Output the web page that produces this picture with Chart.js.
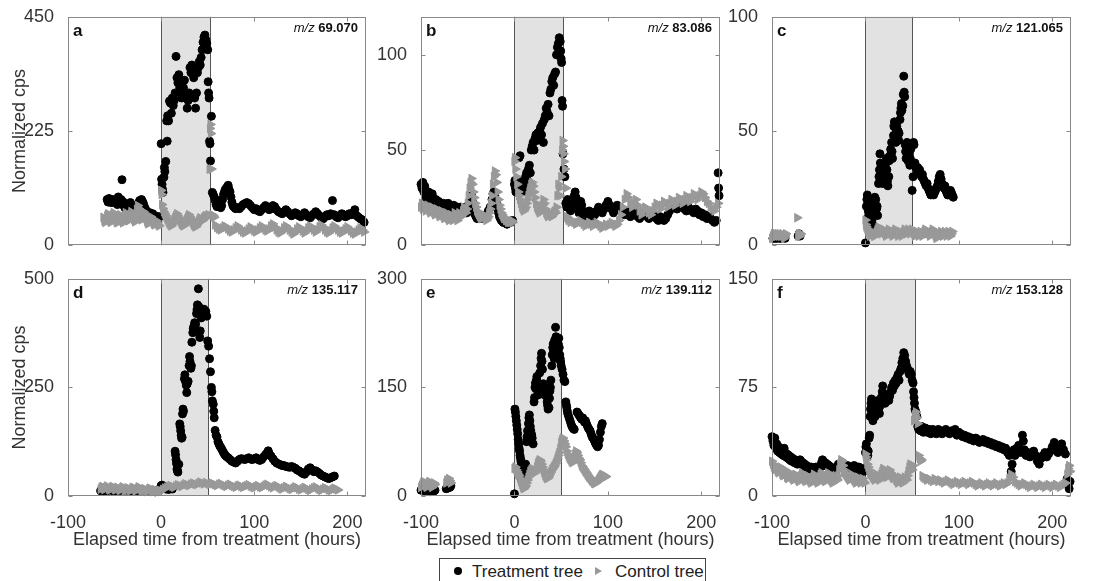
<!DOCTYPE html>
<html>
<head>
<meta charset="utf-8">
<script src="https://cdn.jsdelivr.net/npm/chart.js@4.4.0/dist/chart.umd.min.js"></script>
<style>
  body { margin: 0; background: #fff; }
  #page { position: relative; width: 1096px; height: 581px; overflow: hidden; font-family: "Liberation Sans", Arial, sans-serif; }
  canvas { position: absolute; }
  #legend { position: absolute; left: 439px; top: 558px; width: 267px; height: 30px; border: 1px solid #444; box-sizing: border-box; color: #222; font-size: 17px; }
  #legend span { position: absolute; top: 3px; line-height: 20px; }
  .dot { width: 8px; height: 8px; border-radius: 50%; background: #000; }
  .tri { width: 0; height: 0; border-top: 4px solid transparent; border-bottom: 4px solid transparent; border-left: 7px solid #999; }
</style>
</head>
<body>
<div id="page">
  <canvas id="pa" width="372" height="262" style="left:0;top:0"></canvas>
  <canvas id="pb" width="350" height="262" style="left:376px;top:0"></canvas>
  <canvas id="pc" width="368" height="262" style="left:728px;top:0"></canvas>
  <canvas id="pd" width="372" height="296" style="left:0;top:262px"></canvas>
  <canvas id="pe" width="350" height="296" style="left:376px;top:262px"></canvas>
  <canvas id="pf" width="368" height="296" style="left:728px;top:262px"></canvas>
  <div id="legend">
    <div class="dot" style="position:absolute;left:14px;top:8px"></div>
    <span style="left:32px">Treatment tree</span>
    <div class="tri" style="position:absolute;left:155px;top:8px"></div>
    <span style="left:175px">Control tree</span>
  </div>
</div>
<script>
// panel labels, axes
const panelLetters = ['a', 'b', 'c', 'd', 'e', 'f'];
const mzLabels = ['69.070', '83.086', '121.065', '135.117', '139.112', '153.128'];
const yMaxes = [450, 120, 100, 500, 300, 150];
const yTickSets = [[0, 225, 450], [0, 50, 100], [0, 50, 100], [0, 250, 500], [0, 150, 300], [0, 75, 150]];
const xTicks = [-100, 0, 100, 200];
const shadeEnds = [52, 52, 50, 50, 50, 53];

// [hours, normalized cps]
const aTreat = [[-58,90],[-57,85],[-56,92],[-55,88],[-54,84],[-53,86],[-52,90],[-51,84],[-50,88],[-49,85],[-48,87],[-47,80],[-46,95],[-45,88],[-44,84],[-43,90],[-42,129],[-41,86],[-40,78],[-39,74],[-38,72],[-37,76],[-36,70],[-35,74],[-34,80],[-33,84],[-32,78],[-31,74],[-30,70],[-29,68],[-28,72],[-27,76],[-26,74],[-25,80],[-24,84],[-23,88],[-22,86],[-21,90],[-20,86],[-19,82],[-18,76],[-17,72],[-16,68],[-15,66],[-14,64],[-13,62],[-12,64],[-11,60],[-10,58],[-9,62],[-8,58],[-7,56],[-6,54],[-5,57],[-4,55],[-3,52],[-2,56],
  [0,200],[0.5,130],[1,120],[1.5,110],[2,104],[3,134],[3.5,153],[4,145],[5,165],[6,245],[6.5,205],[7,255],[8,245],[9,284],[10,280],[11,260],[12,290],[13,275],[14,285],[15,300],[16,372],[17,330],[18,320],[19,336],[20,310],[21,300],[22,290],[23,305],[24,310],[25,325],[26,300],[27,290],[28,270],[29,285],[30,300],[31,350],[32,340],[33,355],[34,345],[35,330],[36,290],[37,270],[38,300],[39,340],[40,350],[41,362],[42,355],[43,370],[44,385],[45,400],[46,410],[47,414],[48,405],[49,398],[50,385],[50.5,322],[51,300],[51.5,290],[52,205],[52.5,200],[53,166],[54,254],
  [55,104],[56,100],[57,95],[58,88],[59,80],[60,76],[61,82],[62,88],[63,80],[64,74],[65,78],[66,90],[67,100],[68,105],[69,110],[70,112],[71,115],[72,118],[73,110],[74,105],[75,95],[76,85],[77,78],[78,76],[79,74],[80,72],[82,74],[84,72],[86,76],[88,80],[90,82],[92,84],[94,82],[96,78],[98,74],[100,70],[102,72],[104,68],[106,66],[108,70],[110,74],[112,78],[114,74],[116,70],[118,72],[120,78],[122,76],[124,70],[126,66],[128,64],[130,62],[132,66],[134,70],[136,66],[138,62],[140,58],[142,60],[144,64],[146,62],[148,58],[150,56],[152,60],[154,64],[156,60],[158,56],[160,54],[162,58],[164,62],[166,66],[168,62],[170,58],[172,54],[174,52],[176,56],[178,60],[180,58],[182,62],[184,88],[186,60],[188,56],[190,54],[192,58],[194,62],[196,60],[198,56],[200,58],[202,62],[204,60],[206,64],[208,70],[210,58],[212,55],[214,52],[216,50],[218,45]];
const aCtrl = [[-62,55],[-61,48],[-60,45],[-59,50],[-58,58],[-57,62],[-56,55],[-55,48],[-54,45],[-53,52],[-52,60],[-51,64],[-50,58],[-49,52],[-48,46],[-47,44],[-46,50],[-45,56],[-44,60],[-43,54],[-42,48],[-41,44],[-40,50],[-39,58],[-38,64],[-37,60],[-36,54],[-35,48],[-34,52],[-33,60],[-32,66],[-31,62],[-30,56],[-29,50],[-28,46],[-27,52],[-26,70],[-25,78],[-24,72],[-23,62],[-22,56],[-21,50],[-20,58],[-19,66],[-18,62],[-17,58],[-16,52],[-15,46],[-14,42],[-13,46],[-12,52],[-11,56],[-10,50],[-9,46],[-8,42],[-7,40],[-6,44],[-5,48],[-4,44],[-3,40],[-2,38],
  [0,108],[0.5,100],[1,80],[2,72],[3,66],[4,62],[5,58],[6,54],[7,50],[8,46],[9,42],[10,40],[11,38],[12,42],[13,46],[14,50],[15,54],[16,58],[17,62],[18,58],[19,54],[20,50],[21,46],[22,42],[23,40],[24,38],[25,40],[26,44],[27,48],[28,52],[29,56],[30,60],[31,56],[32,52],[33,48],[34,44],[35,40],[36,38],[37,36],[38,38],[39,42],[40,46],[41,50],[42,54],[43,52],[44,48],[45,50],[46,54],[47,56],[48,58],[49,55],[50,58],[51,60],[52,150],[52.5,230],[53,238],[53.5,220],[54,150],[55,60],[56,58],
  [57,55],[58,40],[60,35],[62,32],[64,30],[66,34],[68,38],[70,36],[72,32],[74,28],[76,26],[78,30],[80,34],[82,38],[84,34],[86,30],[88,26],[90,24],[92,28],[94,32],[96,36],[98,32],[100,28],[102,26],[104,30],[106,34],[108,38],[110,34],[112,30],[114,28],[116,32],[118,38],[120,42],[122,36],[124,30],[126,26],[128,24],[130,28],[132,34],[134,38],[136,34],[138,30],[140,26],[142,22],[144,26],[146,32],[148,36],[150,32],[152,28],[154,24],[156,28],[158,34],[160,38],[162,34],[164,30],[166,26],[168,30],[170,36],[172,40],[174,36],[176,30],[178,26],[180,24],[182,28],[184,34],[186,38],[188,34],[190,30],[192,26],[194,24],[196,28],[198,32],[200,36],[202,32],[204,28],[206,24],[208,22],[210,26],[212,30],[214,34],[216,30],[218,26]];

const bTreat = [[-100,32],[-99,30],[-98,33],[-97,28],[-96,31],[-95,26],[-94,24],[-93,27],[-92,28],[-91,26],[-90,25],[-89,24],[-88,27],[-87,25],[-86,23],[-85,22],[-84,24],[-83,22],[-82,21],[-81,23],[-80,22],[-79,20],[-78,21],[-77,20],[-76,22],[-75,20],[-74,19],[-73,20],[-72,21],[-71,22],[-70,21],[-69,20],[-68,19],[-67,18],[-66,20],[-65,21],[-64,20],[-63,19],[-62,18],[-61,20],[-60,19],[-59,18],[-58,20],[-57,19],[-56,18],[-55,17],[-54,19],[-53,20],[-52,18],[-51,17],[-50,18],[-49,20],[-48,22],[-47,24],[-46,26],[-45,23],[-44,19],[-43,17],[-42,16],[-41,15],[-40,14],[-38,14],[-36,15],[-34,14],[-32,15],[-30,16],[-28,18],[-26,20],[-24,24],[-23,27],[-22,28],[-21,26],[-20,24],[-19,22],[-18,19],[-17,17],[-16,15],[-15,14],[-14,13],[-12,12],[-10,12],[-8,11],[-6,12],[-4,12],[-2,13],
  [0,32],[0.5,34],[1,30],[1.5,28],[2,33],[3,30],[4,28],[5,46],[6,47],[6.5,34],[7,30],[8,28],[9,31],[10,29],[11,33],[12,36],[13,38],[14,34],[15,40],[16,42],[17,38],[18,50],[19,52],[20,54],[21,50],[22,56],[23,58],[24,55],[25,59],[26,57],[27,60],[28,62],[29,58],[30,64],[31,54],[32,66],[33,68],[34,72],[35,70],[36,74],[37,68],[38,80],[39,82],[40,86],[41,88],[42,84],[43,90],[44,91],[45,100],[46,104],[47,106],[48,109],[49,107],[49.5,102],[50,98],[50.5,96],[51,76],[51.5,73],[52,48],[53,40],[54,36],
  [55,22],[56,20],[57,24],[58,22],[59,20],[60,18],[61,21],[62,24],[63,22],[64,26],[65,28],[66,25],[67,22],[68,19],[69,17],[70,20],[71,23],[72,21],[73,18],[74,16],[75,15],[76,17],[78,16],[80,18],[82,17],[84,15],[86,16],[88,18],[90,20],[92,19],[94,17],[96,19],[98,21],[100,23],[102,21],[104,19],[106,17],[108,19],[110,21],[112,20],[114,18],[116,17],[118,16],[120,18],[122,17],[124,15],[126,16],[128,18],[130,17],[132,15],[134,14],[136,16],[138,18],[140,17],[142,15],[144,14],[146,15],[148,16],[150,15],[152,14],[154,13],[156,15],[158,14],[160,13],[162,14],[164,16],[166,18],[168,20],[170,22],[172,21],[174,19],[176,20],[178,22],[180,21],[182,19],[184,18],[186,20],[188,19],[190,18],[192,17],[194,19],[196,18],[198,16],[200,17],[202,15],[204,16],[206,14],[208,15],[210,14],[212,13],[214,12],[216,13],[218,38],[218.5,30],[219,26]];
const bCtrl = [[-100,20],[-99,22],[-98,19],[-97,21],[-96,20],[-95,18],[-94,19],[-93,21],[-92,20],[-91,18],[-90,17],[-89,19],[-88,20],[-87,18],[-86,17],[-85,16],[-84,18],[-83,19],[-82,17],[-81,16],[-80,15],[-79,17],[-78,18],[-77,16],[-76,15],[-75,14],[-74,16],[-73,17],[-72,15],[-71,14],[-70,13],[-69,15],[-68,16],[-67,14],[-66,13],[-65,15],[-64,17],[-63,16],[-62,14],[-61,13],[-60,15],[-59,17],[-58,16],[-57,15],[-56,16],[-55,18],[-54,20],[-53,18],[-52,17],[-51,19],[-50,22],[-49,26],[-48,30],[-47,33],[-46,35],[-45,32],[-44,28],[-43,25],[-42,22],[-41,20],[-40,18],[-39,17],[-38,16],[-37,15],[-36,14],[-35,14],[-34,15],[-33,16],[-32,15],[-31,14],[-30,13],[-29,14],[-28,15],[-27,17],[-26,19],[-25,22],[-24,26],[-23,32],[-22,36],[-21,39],[-20,37],[-19,33],[-18,28],[-17,24],[-16,21],[-15,19],[-14,17],[-13,16],[-12,15],[-11,14],[-10,14],[-9,13],[-8,13],[-7,12],[-6,13],[-5,12],[-4,12],[-3,13],[-2,12],
  [0,44],[0.5,46],[1,40],[2,36],[3,32],[4,28],[5,26],[6,24],[7,22],[8,20],[9,19],[10,18],[11,19],[12,20],[13,22],[14,24],[15,26],[16,28],[17,30],[18,32],[19,33],[20,31],[21,28],[22,25],[23,22],[24,20],[25,19],[26,18],[27,17],[28,18],[29,19],[30,21],[31,24],[32,22],[33,19],[34,17],[35,16],[36,15],[37,16],[38,17],[39,16],[40,15],[41,16],[42,17],[43,18],[44,17],[45,20],[46,26],[47,32],[48,30],[49,26],[50,36],[51,50],[51.5,55],[52,52],[52.5,48],[53,44],[54,40],[55,30],
  [56,15],[57,14],[58,13],[60,12],[62,13],[64,12],[66,11],[68,12],[70,13],[72,12],[74,11],[76,10],[78,11],[80,12],[82,11],[84,10],[86,11],[88,12],[90,11],[92,10],[94,9],[96,10],[98,11],[100,10],[102,11],[104,12],[106,11],[108,10],[110,11],[112,13],[114,16],[116,20],[118,24],[120,27],[122,25],[124,22],[126,20],[128,22],[130,24],[132,21],[134,18],[136,16],[138,18],[140,20],[142,19],[144,17],[146,16],[148,18],[150,20],[152,22],[154,21],[156,19],[158,21],[160,23],[162,22],[164,20],[166,22],[168,24],[170,23],[172,21],[174,23],[176,25],[178,24],[180,22],[182,24],[184,26],[186,25],[188,23],[190,25],[192,27],[194,26],[196,24],[198,26],[200,28],[202,27],[204,25],[206,23],[208,22],[210,20],[212,19],[214,18],[216,20],[218,22]];

const cTreat = [[-99,3],[-98,4],[-97,3],[-96,4],[-95,3],[-94,4],[-93,4],[-92,3],[-91,4],[-90,3],[-87,4],[-86,3],[-72,4],[-71,5],[-70,4],
  [0,1],[1,17],[1.5,20],[2,22],[2.5,18],[3,15],[3.5,13],[4,19],[4.5,16],[5,12],[5.5,10],[6,14],[6.5,8],[7,11],[7.5,13],[8,9],[9,15],[10,21],[10.5,18],[11,20],[12,16],[12.5,17],[13,13],[14,27],[14.5,30],[15,33],[15.5,40],[16,36],[16.5,31],[17,28],[17.5,34],[18,32],[18.5,27],[19,30],[19.5,35],[20,33],[20.5,31],[21,29],[22,36],[22.5,38],[23,33],[23.5,28],[24,26],[25,30],[25.5,37],[26,39],[27,42],[27.5,40],[28,45],[28.5,41],[29,38],[30,48],[30.5,52],[31,54],[32,47],[32.5,45],[33,50],[33.5,52],[34,48],[35,50],[35.5,46],[36,49],[37,55],[37.5,58],[38,60],[38.5,62],[39,59],[40,61],[40.5,66],[41,74],[41.5,67],[42,65],[42.5,44],[43,41],[43.5,38],[44,43],[44.5,45],[45,39],[45.5,37],[46,44],[47,40],[47.5,35],[48,38],[48.5,42],[49,36],[50,24],[51,30],[51.5,45],[52,44],[53,36],[54,34],[55,33],[56,34],[57,32],[58,33],[59,31],[60,30],[61,31],[62,29],[63,28],[64,27],[65,26],[66,27],[67,25],[68,24],[69,23],[70,22],[71,23],[72,24],[73,22],[74,23],[75,24],[76,25],[77,26],[78,28],[79,30],[80,31],[81,29],[82,27],[83,26],[84,25],[85,26],[86,24],[87,23],[88,22],[89,23],[90,22],[91,24],[92,23],[93,22],[94,21]];
const cCtrl = [[-100,3],[-99,4],[-98,5],[-97,4],[-96,5],[-95,4],[-94,5],[-93,4],[-92,5],[-91,4],[-90,4],[-89,5],[-88,4],[-87,3],[-86,4],[-85,5],[-73,12],[-72,4],[-71,5],[-70,4],[-69,5],
  [0,11],[0.5,9],[1,8],[2,7],[3,6],[4,5],[5,4],[6,5],[7,6],[8,5],[9,4],[10,4],[11,5],[12,6],[13,7],[14,8],[15,7],[16,6],[17,5],[18,6],[19,7],[20,6],[21,5],[22,4],[23,5],[24,6],[25,7],[26,6],[27,5],[28,5],[29,4],[30,5],[31,6],[32,7],[33,6],[34,5],[35,4],[36,5],[37,6],[38,5],[39,4],[40,5],[41,6],[42,7],[43,6],[44,5],[45,6],[46,7],[47,6],[48,5],[49,6],[50,7],[51,6],[52,5],[53,4],[54,5],[55,6],[56,5],[57,4],[58,5],[59,6],[60,5],[61,4],[62,5],[63,6],[64,7],[65,6],[66,5],[67,6],[68,5],[69,4],[70,5],[71,6],[72,7],[73,6],[74,5],[75,4],[76,3],[77,4],[78,5],[79,4],[80,5],[81,6],[82,5],[83,4],[84,5],[85,6],[86,5],[87,4],[88,5],[89,6],[90,5],[91,4],[92,5],[93,6]];

const dTreat = [[-65,12],[-63,13],[-60,11],[-58,12],[-55,14],[-52,12],[-50,11],[-45,12],[-40,13],[-35,12],[-30,11],[-25,12],[-20,13],[-15,12],[-10,11],[-5,12],
  [0,24],[1,25],[2,22],[3,20],[5,16],[8,15],[12,16],
  [15,103],[15.5,95],[16,84],[16.5,75],[17,62],[17.5,58],[18,55],[19,73],[20,166],[20.5,160],[21,150],[21.5,140],[22,133],[22.5,135],[23,189],[23.5,200],[24,195],[25,270],[25.5,279],[26,265],[27,255],[27.5,238],[28,258],[29,264],[30,300],[30.5,321],[31,310],[32,294],[32.5,300],[33,354],[34,376],[34.5,385],[35,390],[36,399],[37,395],[38,420],[38.5,429],[39,440],[40,477],[40.5,436],[41,430],[41.5,365],[42,380],[43,410],[44,429],[45,420],[46,430],[47,415],[48,425],[49,414],[50,357],[51,345],[52,316],[53,286],[54,250],[54.5,240],[55,219],[56,211],[56.5,195],[57,180],[58,151],[59,140],[60,136],[61,125],[62,120],[63,115],[64,112],[65,108],[66,104],[67,100],[68,96],[69,94],[70,91],[72,88],[74,84],[76,80],[78,78],[80,76],[82,80],[84,84],[86,86],[88,85],[90,84],[92,86],[94,88],[96,85],[98,84],[100,86],[102,88],[104,84],[106,82],[108,84],[110,90],[112,95],[114,100],[115,104],[116,98],[118,92],[120,86],[122,80],[124,76],[126,74],[128,72],[130,70],[132,70],[134,68],[136,67],[138,66],[140,68],[142,66],[144,64],[146,60],[148,58],[150,55],[152,52],[154,50],[156,55],[158,62],[160,65],[162,60],[164,56],[166,58],[168,55],[170,52],[172,48],[174,46],[176,44],[178,42],[180,40],[182,42],[184,44],[186,46]];
const dCtrl = [[-65,16],[-64,20],[-63,22],[-62,18],[-61,15],[-60,17],[-59,20],[-58,23],[-57,19],[-56,16],[-55,14],[-54,17],[-53,20],[-52,22],[-51,19],[-50,16],[-49,14],[-48,17],[-47,20],[-46,18],[-45,15],[-44,13],[-43,16],[-42,19],[-41,21],[-40,18],[-39,15],[-38,13],[-37,16],[-36,19],[-35,17],[-34,14],[-33,12],[-32,15],[-31,18],[-30,20],[-29,17],[-28,14],[-27,12],[-26,15],[-25,18],[-24,21],[-23,19],[-22,16],[-21,13],[-20,11],[-19,14],[-18,17],[-17,15],[-16,12],[-15,10],[-14,13],[-13,16],[-12,18],[-11,15],[-10,12],[-9,10],[-8,13],[-7,15],[-6,12],[-5,10],[-4,9],[-3,11],[-2,13],[-1,10],
  [0,12],[2,15],[4,18],[6,20],[8,22],[10,24],[12,22],[14,20],[16,23],[18,26],[20,24],[22,22],[24,25],[26,28],[28,26],[30,24],[32,27],[34,30],[36,28],[38,26],[40,29],[42,32],[44,30],[46,28],[48,31],[50,29],[52,27],[54,30],[56,28],[58,26],[60,24],[62,27],[64,29],[66,26],[68,24],[70,22],[72,25],[74,27],[76,24],[78,22],[80,20],[82,23],[84,25],[86,22],[88,20],[90,22],[92,24],[94,26],[96,23],[98,21],[100,19],[102,22],[104,24],[106,21],[108,19],[110,22],[112,25],[114,27],[116,24],[118,21],[120,19],[122,22],[124,24],[126,21],[128,18],[130,16],[132,19],[134,22],[136,20],[138,17],[140,15],[142,18],[144,21],[146,19],[148,16],[150,14],[152,17],[154,20],[156,18],[158,15],[160,13],[162,16],[164,19],[166,21],[168,18],[170,15],[172,13],[174,16],[176,19],[178,17],[180,14],[182,12],[184,15],[186,18],[188,16],[190,14]];

const eTreat = [[-100,8],[-99,10],[-98,12],[-97,9],[-96,7],[-95,8],[-94,10],[-93,11],[-92,9],[-91,8],[-90,6],[-89,7],[-88,8],[-87,9],[-86,7],[-85,8],[-73,10],[-72,12],[-71,11],[-70,13],[-69,12],[-68,14],
  [0,3],[0.5,120],[1,116],[1.5,110],[2,104],[2.5,98],[3,92],[3.5,86],[4,78],[4.5,72],[5,66],[5.5,62],[6,56],[6.5,52],[7,48],[7.5,45],[8,42],[8.5,38],[9,35],[9.5,32],[10,30],[11,36],[12,44],[13,75],[13.5,82],[14,90],[14.5,84],[15,100],[15.5,108],[16,112],[16.5,104],[17,96],[17.5,90],[18,86],[18.5,84],[19,80],[20,72],[21,130],[21.5,136],[22,150],[22.5,156],[23,148],[23.5,160],[24,165],[24.5,158],[25,152],[25.5,145],[26,140],[27,170],[28,180],[28.5,190],[29,197],[29.5,186],[30,175],[31,155],[31.5,150],[32,145],[32.5,140],[33,150],[33.5,148],[34,138],[35,130],[35.5,125],[36,120],[37,122],[37.5,135],[38,145],[38.5,150],[39,160],[40,180],[40.5,195],[41,205],[41.5,210],[42,200],[42.5,190],[43,215],[44,233],[44.5,220],[45,212],[45.5,205],[46,195],[46.5,200],[47,210],[47.5,218],[48,205],[48.5,195],[49,190],[49.5,185],[50,180],[51,175],[52,168],[53,160],[54,158],[55,130],[55.5,126],[56,122],[56.5,118],[57,114],[58,110],[59,106],[60,102],[61,98],[62,95],[63,93],[64,92],[67,116],[68,114],[69,112],[70,110],[71,108],[72,106],[73,108],[74,105],[75,102],[76,104],[77,100],[78,97],[79,94],[80,92],[81,90],[82,86],[83,82],[84,80],[85,78],[86,75],[87,72],[88,70],[89,68],[90,70],[91,78],[92,88],[93,96],[94,100]];
const eCtrl = [[-100,12],[-99,15],[-98,18],[-97,20],[-96,17],[-95,14],[-94,12],[-93,15],[-92,18],[-91,20],[-90,17],[-89,14],[-88,12],[-87,15],[-86,18],[-85,16],[-73,18],[-72,22],[-71,20],[-70,24],[-69,21],[-68,18],
  [0,38],[1,40],[2,36],[3,33],[4,30],[5,28],[6,24],[7,20],[8,16],[9,12],[10,10],[11,12],[12,14],[13,18],[14,22],[15,26],[16,30],[17,34],[18,36],[19,38],[20,36],[21,34],[22,32],[23,35],[24,40],[25,45],[26,48],[27,50],[28,48],[29,44],[30,40],[31,36],[32,32],[33,28],[34,26],[35,24],[36,25],[37,27],[38,30],[39,33],[40,36],[41,38],[42,40],[43,42],[44,45],[45,48],[46,52],[47,56],[48,60],[49,66],[50,74],[51,78],[52,80],[53,76],[54,72],[55,68],[56,62],[57,58],[58,55],[59,52],[60,50],[61,48],[62,46],[63,48],[64,52],[65,58],[66,62],[67,60],[68,56],[69,52],[70,50],[71,46],[72,42],[73,40],[74,38],[75,36],[76,34],[77,32],[78,30],[79,28],[80,26],[81,25],[82,23],[83,21],[84,20],[85,18],[86,17],[87,18],[88,19],[89,20],[90,22],[91,24],[92,26],[93,28],[94,30],[95,28],[96,27],[97,26],[98,27]];

const fTreat = [[-100,41],[-99,38],[-98,35],[-97,40],[-96,33],[-95,36],[-94,31],[-93,34],[-92,30],[-91,32],[-90,29],[-89,31],[-88,28],[-87,33],[-86,30],[-85,27],[-84,29],[-83,26],[-82,28],[-81,25],[-80,27],[-79,24],[-78,26],[-77,25],[-76,23],[-75,25],[-74,24],[-73,22],[-72,24],[-71,23],[-70,25],[-69,24],[-68,22],[-67,23],[-66,21],[-65,22],[-64,20],[-63,21],[-62,20],[-61,19],[-60,20],[-59,19],[-58,20],[-57,18],[-56,19],[-55,18],[-54,19],[-53,20],[-52,19],[-51,18],[-50,17],[-48,20],[-47,23],[-46,25],[-45,24],[-44,22],[-43,23],[-42,21],[-41,22],[-40,20],[-39,21],[-38,19],[-37,20],[-36,18],[-35,19],[-34,18],[-33,17],[-32,19],[-31,18],[-30,20],[-29,22],[-28,21],[-27,20],[-26,22],[-25,21],[-24,20],[-23,22],[-22,21],[-21,20],[-20,19],[-19,21],[-18,20],[-17,19],[-16,20],[-15,18],[-14,19],[-13,20],[-12,21],[-11,19],[-10,20],[-9,18],[-8,19],[-7,20],[-6,18],[-5,17],[-4,18],[-3,19],[-2,17],[-1,18],
  [0,30],[0.5,34],[1,36],[1.5,32],[2,30],[2.5,28],[3,31],[4,40],[4.5,42],[5,55],[5.5,60],[6,64],[6.5,67],[7,58],[7.5,54],[8,52],[9,56],[9.5,60],[10,62],[10.5,55],[11,58],[12,60],[13,63],[13.5,66],[14,60],[15,57],[15.5,62],[16,64],[17,68],[18,72],[18.5,76],[19,70],[20,66],[21,64],[22,67],[23,70],[24,68],[25,66],[26,69],[27,72],[28,75],[29,73],[30,78],[31,76],[32,80],[33,78],[34,82],[35,84],[36,80],[37,86],[38,88],[39,92],[40,95],[41,99],[42,97],[43,93],[44,90],[45,88],[46,86],[47,84],[48,86],[49,84],[50,80],[51,78],[51.5,72],[52,68],[52.5,64],[53,60],[54,58],[55,55],
  [56,48],[57,46],[58,47],[59,45],[60,48],[61,46],[62,44],[63,45],[64,47],[65,46],[66,44],[67,45],[68,46],[69,44],[70,43],[71,45],[72,46],[73,44],[74,45],[76,43],[78,46],[80,45],[82,43],[84,44],[86,46],[88,44],[90,43],[92,45],[94,44],[96,46],[98,42],[100,44],[102,43],[104,41],[106,42],[108,40],[110,41],[112,39],[114,40],[116,38],[118,40],[120,39],[122,37],[124,38],[126,39],[128,37],[130,38],[132,36],[134,37],[136,35],[138,36],[140,34],[142,35],[144,33],[146,34],[148,32],[150,33],[152,30],[154,28],[156,17],[157,22],[158,30],[159,32],[160,28],[162,33],[164,35],[166,30],[168,42],[169,38],[170,32],[172,28],[174,30],[176,27],[178,29],[180,31],[182,28],[184,24],[186,22],[188,26],[190,28],[192,30],[194,27],[196,29],[198,31],[200,34],[202,37],[204,33],[206,30],[208,35],[210,36],[212,32],[214,29],[216,12],[217,8],[218,5],[219,10]];
const fCtrl = [[-100,24],[-99,22],[-98,20],[-97,18],[-96,21],[-95,19],[-94,17],[-93,16],[-92,18],[-91,20],[-90,17],[-89,15],[-88,14],[-87,16],[-86,18],[-85,15],[-84,13],[-83,12],[-82,14],[-81,16],[-80,15],[-79,13],[-78,12],[-77,11],[-76,13],[-75,15],[-74,14],[-73,12],[-72,11],[-71,10],[-70,12],[-69,14],[-68,16],[-67,15],[-66,13],[-65,11],[-64,10],[-63,12],[-62,14],[-61,13],[-60,11],[-59,10],[-58,9],[-57,11],[-56,13],[-55,15],[-54,14],[-53,12],[-52,10],[-51,9],[-50,11],[-49,13],[-48,15],[-47,16],[-46,14],[-45,12],[-44,11],[-43,10],[-42,12],[-41,14],[-40,16],[-39,15],[-38,13],[-37,11],[-36,10],[-35,9],[-34,11],[-33,13],[-32,14],[-31,12],[-30,11],[-29,14],[-28,18],[-27,22],[-26,25],[-25,24],[-24,21],[-23,18],[-22,16],[-21,15],[-20,14],[-19,13],[-18,12],[-17,11],[-16,13],[-15,15],[-14,14],[-13,12],[-12,11],[-11,10],[-10,9],[-9,11],[-8,13],[-7,12],[-6,10],[-5,9],[-4,11],[-3,12],[-2,10],[-1,9],
  [0,29],[0.5,27],[1,25],[2,22],[3,20],[4,18],[5,16],[6,15],[7,14],[8,13],[9,12],[10,11],[11,13],[12,15],[13,14],[14,12],[15,11],[16,13],[17,15],[18,17],[19,19],[20,18],[21,16],[22,14],[23,13],[24,15],[25,17],[26,18],[27,16],[28,14],[29,13],[30,12],[31,14],[32,13],[33,11],[34,10],[35,9],[36,11],[37,13],[38,12],[39,10],[40,9],[41,11],[42,13],[43,12],[44,11],[45,14],[46,17],[47,20],[48,22],[49,19],[50,18],[51,21],[52,52],[53,56],[54,58],[55,54],[56,50],[57,28],[58,26],[59,24],[60,25],[61,14],[62,13],[64,12],[66,11],[68,12],[70,11],[72,10],[74,12],[76,11],[78,10],[80,11],[82,10],[84,9],[86,10],[88,11],[90,10],[92,9],[94,8],[96,9],[98,10],[100,9],[102,8],[104,9],[106,10],[108,9],[110,8],[112,9],[114,10],[116,9],[118,8],[120,7],[122,8],[124,9],[126,8],[128,7],[130,8],[132,9],[134,8],[136,7],[138,8],[140,9],[142,8],[144,7],[146,8],[148,9],[150,8],[152,9],[154,12],[156,15],[158,13],[160,10],[162,9],[164,8],[166,7],[168,8],[170,9],[172,8],[174,7],[176,6],[178,7],[180,8],[182,7],[184,6],[186,7],[188,8],[190,7],[192,6],[194,7],[196,8],[198,7],[200,6],[202,7],[204,8],[206,7],[208,6],[210,7],[212,8],[214,9],[216,15],[217,19],[218,21],[219,17]];

const treatSeries = [aTreat, bTreat, cTreat, dTreat, eTreat, fTreat];
const ctrlSeries = [aCtrl, bCtrl, cCtrl, dCtrl, eCtrl, fCtrl];

const FONT = '"Liberation Sans", Arial, sans-serif';
const TXT = '#333';

// canvas id, y axis width, x axis height, top pad, right pad
const layouts = [
  { id: 'pa', yW: 68, xH: 15, top: 15, right: 6, col: 0, row: 0 },
  { id: 'pb', yW: 45, xH: 15, top: 15, right: 6, col: 1, row: 0 },
  { id: 'pc', yW: 44, xH: 15, top: 15, right: 25, col: 2, row: 0 },
  { id: 'pd', yW: 68, xH: 62, top: 12, right: 6, col: 0, row: 1 },
  { id: 'pe', yW: 45, xH: 62, top: 12, right: 6, col: 1, row: 1 },
  { id: 'pf', yW: 44, xH: 62, top: 12, right: 25, col: 2, row: 1 }
];

// shaded treatment window, box, inward ticks and panel labels
const panelDecor = {
  id: 'panelDecor',
  beforeDatasetsDraw(chart, args, opts) {
    const { ctx, chartArea: ca, scales: { x } } = chart;
    const x0 = Math.round(x.getPixelForValue(0)) + 0.5;
    const x1 = Math.round(x.getPixelForValue(opts.shadeEnd)) + 0.5;
    ctx.save();
    ctx.fillStyle = '#e2e2e2';
    ctx.fillRect(x0, ca.top, x1 - x0, ca.bottom - ca.top);
    ctx.strokeStyle = '#555';
    ctx.lineWidth = 1;
    ctx.beginPath();
    ctx.moveTo(x0, ca.top); ctx.lineTo(x0, ca.bottom);
    ctx.moveTo(x1, ca.top); ctx.lineTo(x1, ca.bottom);
    ctx.stroke();
    ctx.restore();
  },
  afterDraw(chart, args, opts) {
    const { ctx, chartArea: ca, scales: { x, y } } = chart;
    const L = Math.round(ca.left) + 0.5, R = Math.round(ca.right) - 0.5;
    const T = Math.round(ca.top) + 0.5, B = Math.round(ca.bottom) - 0.5;
    ctx.save();
    ctx.strokeStyle = '#888';
    ctx.lineWidth = 1;
    ctx.strokeRect(L, T, R - L, B - T);
    ctx.beginPath();
    xTicks.forEach(v => {
      const px = Math.round(x.getPixelForValue(v)) + 0.5;
      ctx.moveTo(px, B); ctx.lineTo(px, B - 4);
      ctx.moveTo(px, T); ctx.lineTo(px, T + 4);
    });
    opts.yTicks.forEach(v => {
      const py = Math.round(y.getPixelForValue(v)) + 0.5;
      ctx.moveTo(L, py); ctx.lineTo(L + 4, py);
      ctx.moveTo(R, py); ctx.lineTo(R - 4, py);
    });
    ctx.stroke();

    ctx.fillStyle = '#111';
    ctx.textBaseline = 'alphabetic';
    ctx.textAlign = 'left';
    ctx.font = 'bold 17px ' + FONT;
    ctx.fillText(opts.letter, ca.left + 5, ca.top + 19);

    ctx.font = 'bold 13px ' + FONT;
    const numW = ctx.measureText(opts.mz).width;
    const rx = ca.right - 8;
    ctx.fillText(opts.mz, rx - numW, ca.top + 15);
    ctx.font = 'italic 13px ' + FONT;
    const mzW = ctx.measureText('m/z ').width;
    ctx.fillText('m/z ', rx - numW - mzW, ca.top + 15);
    ctx.restore();
  }
};

layouts.forEach((lay, i) => {
  const ctx = document.getElementById(lay.id);
  new Chart(ctx, {
    type: 'scatter',
    data: {
      datasets: [{
        label: 'Treatment tree',
        data: treatSeries[i].map(p => ({ x: p[0], y: p[1] })),
        pointStyle: 'circle',
        pointRadius: 4,
        backgroundColor: '#000',
        borderColor: '#000',
        borderWidth: 1,
        order: 1,
        clip: false
      }, {
        label: 'Control tree',
        data: ctrlSeries[i].map(p => ({ x: p[0], y: p[1] })),
        pointStyle: 'triangle',
        rotation: 90,
        pointRadius: 5,
        backgroundColor: '#999',
        borderColor: '#999',
        borderWidth: 1,
        order: 0,
        clip: false
      }]
    },
    options: {
      responsive: false,
      animation: false,
      events: [],
      layout: { padding: { top: lay.top, right: lay.right, left: 0, bottom: 0 } },
      scales: {
        x: {
          type: 'linear',
          min: -100,
          max: 220,
          afterBuildTicks: s => { s.ticks = xTicks.map(v => ({ value: v })); },
          afterFit: s => { s.height = lay.xH; },
          grid: { display: false },
          border: { display: false },
          ticks: { display: lay.row === 1, font: { family: FONT, size: 18 }, color: TXT, padding: 8, maxRotation: 0 },
          title: { display: lay.row === 1, text: 'Elapsed time from treatment (hours)', font: { family: FONT, size: 18 }, color: TXT, padding: { top: 0, bottom: 7 } }
        },
        y: {
          type: 'linear',
          min: 0,
          max: yMaxes[i],
          afterBuildTicks: s => { s.ticks = yTickSets[i].map(v => ({ value: v })); },
          afterFit: s => { s.width = lay.yW; },
          grid: { display: false },
          border: { display: false },
          ticks: { font: { family: FONT, size: 18 }, color: TXT, padding: 6 },
          title: { display: lay.col === 0, text: 'Normalized cps', font: { family: FONT, size: 18 }, color: TXT, padding: { top: 9, bottom: 0 } }
        }
      },
      plugins: {
        legend: { display: false },
        tooltip: { enabled: false },
        panelDecor: { shadeEnd: shadeEnds[i], yTicks: yTickSets[i], letter: panelLetters[i], mz: mzLabels[i] }
      }
    },
    plugins: [panelDecor]
  });
});
</script>
</body>
</html>
